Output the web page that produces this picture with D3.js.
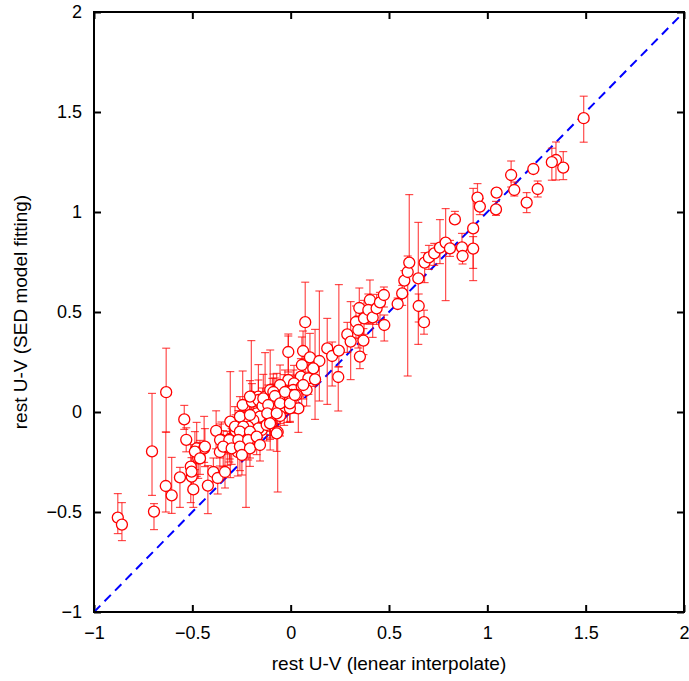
<!DOCTYPE html>
<html>
<head>
<meta charset="utf-8">
<script src="https://cdn.jsdelivr.net/npm/d3@7"></script>
<style>
  body { margin: 0; background: #fff; }
  svg { font-family: "Liberation Sans", Arial, sans-serif; }
</style>
</head>
<body>
<svg width="689" height="681"></svg>
<script>
// rest U-V from linear interpolation (x) vs SED model fitting (y)
const uvLinear = [
  -0.879, -0.858, -0.695, -0.705, -0.633, -0.635, -0.605, -0.541, -0.531, -0.563,
  -0.508, -0.495, -0.503, -0.478, -0.470, -0.440, -0.421, -0.393, -0.371, -0.379,
  -0.360, -0.352, -0.334, -0.322, -0.307, -0.310, -0.280, -0.269, -0.266, -0.258,
  -0.244, -0.236, -0.227, -0.210, -0.200, -0.197, -0.207, -0.190, -0.173, -0.159,
  -0.164, -0.147, -0.130, -0.109, -0.105, -0.104, -0.093, -0.105, -0.066, -0.063,
  -0.071, -0.033, -0.012, -0.012, 0.074, 0.063, 0.057, 0.098, 0.146, 0.115,
  0.052, 0.090, 0.124, 0.017, 0.013, 0.005, 0.056, 0.081, 0.039, -0.017,
  0.186, 0.211, 0.245, 0.242, 0.288, 0.305, 0.332, 0.349, 0.352, 0.344,
  0.370, 0.373, 0.403, 0.395, 0.417, 0.437, 0.454, 0.474, 0.476, 0.567,
  0.578, 0.595, 0.603, 0.649, 0.651, 0.678, 0.681, 0.544, 0.703, 0.730,
  0.759, 0.788, 0.810, 0.835, 0.871, 0.874, 0.928, 0.928, 0.950, 0.962,
  1.490, 1.349, 1.328, 1.386, 1.234, 1.121, 1.137, 1.256, 1.200, 1.047,
  1.044, -0.054, 0.030, 0.064, -0.088, -0.164, -0.088, -0.058, -0.143, -0.088,
  -0.033, -0.004, -0.054, -0.156, -0.190, -0.233, -0.216, -0.164, -0.122, -0.071,
  -0.139, -0.114, -0.080, -0.054, -0.029, -0.004, 0.021, -0.207, -0.258, -0.207,
  -0.119, -0.105, -0.071, -0.283, -0.241, -0.258, -0.207, -0.359, -0.312, -0.266,
  -0.216, -0.173, -0.343, -0.300, -0.258, -0.207, -0.156, -0.436, -0.487, -0.461,
  -0.248, -0.504
];
const uvSed = [
  -0.528, -0.563, -0.498, -0.197, 0.099, -0.370, -0.417, -0.037, -0.139, -0.327,
  -0.273, -0.387, -0.323, -0.182, -0.232, -0.182, -0.368, -0.300, -0.330, -0.094,
  -0.200, -0.140, -0.300, -0.177, -0.048, -0.135, -0.094, -0.200, -0.073, -0.140,
  0.035, -0.073, -0.177, -0.023, 0.077, 0.052, -0.140, -0.090, -0.007, -0.027,
  0.077, -0.090, 0.077, 0.030, -0.007, 0.110, 0.068, -0.040, -0.100, 0.027,
  0.093, 0.107, 0.160, 0.300, 0.449, 0.305, 0.235, 0.273, 0.255, 0.218,
  0.177, 0.168, 0.163, 0.143, 0.110, 0.085, 0.127, 0.110, 0.018, 0.018,
  0.318, 0.280, 0.307, 0.175, 0.388, 0.352, 0.450, 0.520, 0.277, 0.410,
  0.357, 0.468, 0.560, 0.510, 0.473, 0.518, 0.548, 0.585, 0.435, 0.593,
  0.657, 0.700, 0.747, 0.668, 0.530, 0.449, 0.747, 0.540, 0.773, 0.793,
  0.822, 0.847, 0.818, 0.963, 0.823, 0.780, 0.918, 0.817, 1.072, 1.027,
  1.469, 1.260, 1.249, 1.222, 1.215, 1.185, 1.110, 1.115, 1.047, 1.097,
  1.013, 0.135, 0.085, 0.135, 0.100, 0.060, 0.060, 0.060, 0.030, 0.010,
  0.023, 0.018, -0.020, -0.023, -0.040, -0.032, -0.073, -0.082, -0.065, -0.107,
  0.068, 0.035, 0.080, 0.043, 0.100, 0.043, 0.085, 0.077, -0.023, -0.015,
  -0.007, -0.057, -0.007, -0.073, -0.073, -0.098, -0.098, -0.140, -0.140, -0.140,
  -0.140, -0.123, -0.173, -0.182, -0.173, -0.182, -0.165, -0.173, -0.198, -0.232,
  -0.215, -0.298
];
// lower and upper error bar lengths
const errLow = [
  0.08, 0.08, 0.09, 0.22, 0.20, 0.13, 0.09, 0.05, 0.06, 0.15,
  0.18, 0.09, 0.07, 0.14, 0.10, 0.07, 0.14, 0.05, 0.08, 0.09,
  0.07, 0.06, 0.08, 0.09, 0.28, 0.10, 0.07, 0.12, 0.08, 0.06,
  0.20, 0.09, 0.30, 0.09, 0.08, 0.07, 0.09, 0.08, 0.07, 0.10,
  0.09, 0.07, 0.10, 0.08, 0.11, 0.30, 0.08, 0.09, 0.30, 0.07,
  0.07, 0.09, 0.08, 0.10, 0.25, 0.12, 0.08, 0.10, 0.20, 0.09,
  0.07, 0.08, 0.20, 0.08, 0.07, 0.09, 0.10, 0.08, 0.12, 0.07,
  0.28, 0.15, 0.08, 0.17, 0.09, 0.19, 0.08, 0.07, 0.06, 0.09,
  0.07, 0.08, 0.12, 0.07, 0.10, 0.08, 0.09, 0.06, 0.08, 0.06,
  0.07, 0.52, 0.06, 0.33, 0.08, 0.06, 0.10, 0.02, 0.06, 0.06,
  0.08, 0.29, 0.04, 0.02, 0.04, 0.04, 0.20, 0.16, 0.03, 0.04,
  0.12, 0.10, 0.09, 0.06, 0.02, 0.06, 0.03, 0.04, 0.05, 0.02,
  0.03, 0.08, 0.09, 0.07, 0.10, 0.08, 0.09, 0.10, 0.07, 0.08,
  0.09, 0.07, 0.10, 0.08, 0.10, 0.07, 0.09, 0.10, 0.08, 0.09,
  0.09, 0.08, 0.07, 0.10, 0.08, 0.09, 0.08, 0.10, 0.09, 0.07,
  0.09, 0.08, 0.10, 0.08, 0.09, 0.10, 0.08, 0.09, 0.11, 0.08,
  0.10, 0.09, 0.10, 0.08, 0.12, 0.09, 0.08, 0.10, 0.09, 0.08,
  0.10, 0.09
];
const errHigh = [
  0.12, 0.11, 0.04, 0.29, 0.22, 0.27, 0.19, 0.07, 0.06, 0.05,
  0.11, 0.06, 0.07, 0.13, 0.08, 0.16, 0.10, 0.07, 0.05, 0.10,
  0.08, 0.09, 0.09, 0.08, 0.25, 0.08, 0.08, 0.10, 0.08, 0.10,
  0.17, 0.12, 0.09, 0.11, 0.28, 0.09, 0.07, 0.10, 0.09, 0.08,
  0.16, 0.09, 0.22, 0.08, 0.09, 0.20, 0.10, 0.08, 0.13, 0.09,
  0.10, 0.08, 0.22, 0.09, 0.20, 0.10, 0.14, 0.12, 0.35, 0.06,
  0.09, 0.10, 0.25, 0.09, 0.10, 0.08, 0.09, 0.08, 0.10, 0.09,
  0.15, 0.07, 0.33, 0.05, 0.06, 0.20, 0.08, 0.10, 0.09, 0.07,
  0.06, 0.09, 0.10, 0.08, 0.06, 0.07, 0.05, 0.04, 0.05, 0.04,
  0.05, 0.08, 0.34, 0.28, 0.06, 0.06, 0.05, 0.03, 0.06, 0.05,
  0.14, 0.17, 0.04, 0.04, 0.07, 0.03, 0.20, 0.06, 0.07, 0.04,
  0.11, 0.09, 0.07, 0.08, 0.02, 0.07, 0.04, 0.04, 0.05, 0.02,
  0.04, 0.10, 0.07, 0.10, 0.09, 0.10, 0.08, 0.09, 0.09, 0.10,
  0.08, 0.09, 0.08, 0.10, 0.07, 0.09, 0.08, 0.09, 0.12, 0.08,
  0.12, 0.10, 0.09, 0.08, 0.11, 0.08, 0.10, 0.08, 0.10, 0.08,
  0.10, 0.09, 0.08, 0.10, 0.08, 0.09, 0.10, 0.08, 0.09, 0.10,
  0.08, 0.09, 0.08, 0.10, 0.09, 0.08, 0.10, 0.09, 0.10, 0.09,
  0.08, 0.07
];
const tickValues = [-1, -0.5, 0, 0.5, 1, 1.5, 2];

const points = uvLinear.map((x, i) => ({
  x: x, y: uvSed[i], lo: uvSed[i] - errLow[i], hi: uvSed[i] + errHigh[i]
}));

const svg = d3.select("svg");
const margin = {top: 12, right: 5, bottom: 69, left: 94};
const width = +svg.attr("width") - margin.left - margin.right;
const height = +svg.attr("height") - margin.top - margin.bottom;

const g = svg.append("g").attr("transform", `translate(${margin.left},${margin.top})`);

const x = d3.scaleLinear().domain([-1, 2]).range([0, width]);
const y = d3.scaleLinear().domain([-1, 2]).range([height, 0]);

const fmt = d => d3.format("")(d);

// axes with inward ticks, mirrored on top and right
g.append("g")
    .attr("class", "axis axis--x")
    .attr("transform", `translate(0,${height})`)
    .call(d3.axisBottom(x).tickValues(tickValues).tickFormat(fmt).tickSize(-7).tickPadding(14));
g.append("g")
    .attr("class", "axis axis--y")
    .call(d3.axisLeft(y).tickValues(tickValues).tickFormat(fmt).tickSize(-7).tickPadding(12));
g.append("g")
    .attr("class", "axis")
    .call(d3.axisTop(x).tickValues(tickValues).tickFormat("").tickSize(-7));
g.append("g")
    .attr("class", "axis")
    .attr("transform", `translate(${width},0)`)
    .call(d3.axisRight(y).tickValues(tickValues).tickFormat("").tickSize(-7));

g.selectAll(".axis path").remove();
g.selectAll(".axis line").attr("stroke", "#000").attr("stroke-width", 2);
g.selectAll(".axis text")
    .attr("fill", "#000")
    .style("font-size", "18px");

// one-to-one line
g.append("line")
    .attr("x1", x(-1)).attr("y1", y(-1))
    .attr("x2", x(2)).attr("y2", y(2))
    .attr("stroke", "#0000ff")
    .attr("stroke-width", 2)
    .attr("stroke-dasharray", "9,6");

// error bars
const bars = g.append("g")
    .attr("stroke", "#ff0000")
    .attr("stroke-opacity", 0.7)
    .attr("stroke-width", 1.2);

bars.selectAll(".err")
    .data(points)
    .enter().append("line")
    .attr("class", "err")
    .attr("x1", d => x(d.x)).attr("x2", d => x(d.x))
    .attr("y1", d => y(d.lo)).attr("y2", d => y(d.hi));

["lo", "hi"].forEach(k => {
  bars.selectAll(".cap" + k)
      .data(points)
      .enter().append("line")
      .attr("class", "cap" + k)
      .attr("x1", d => x(d.x) - 4).attr("x2", d => x(d.x) + 4)
      .attr("y1", d => y(d[k])).attr("y2", d => y(d[k]));
});

g.selectAll(".dot")
    .data(points)
    .enter().append("circle")
    .attr("class", "dot")
    .attr("cx", d => x(d.x))
    .attr("cy", d => y(d.y))
    .attr("r", 5.5)
    .attr("fill", "#fff")
    .attr("stroke", "#ff0000")
    .attr("stroke-width", 1.3);

// frame
g.append("rect")
    .attr("width", width)
    .attr("height", height)
    .attr("fill", "none")
    .attr("stroke", "#000")
    .attr("stroke-width", 2);

svg.append("text")
    .attr("x", margin.left + width / 2)
    .attr("y", 670)
    .attr("text-anchor", "middle")
    .style("font-size", "19px")
    .text("rest U-V (lenear interpolate)");

svg.append("text")
    .attr("transform", `translate(27,${margin.top + height / 2}) rotate(-90)`)
    .attr("text-anchor", "middle")
    .style("font-size", "19px")
    .text("rest U-V (SED model fitting)");
</script>
</body>
</html>
